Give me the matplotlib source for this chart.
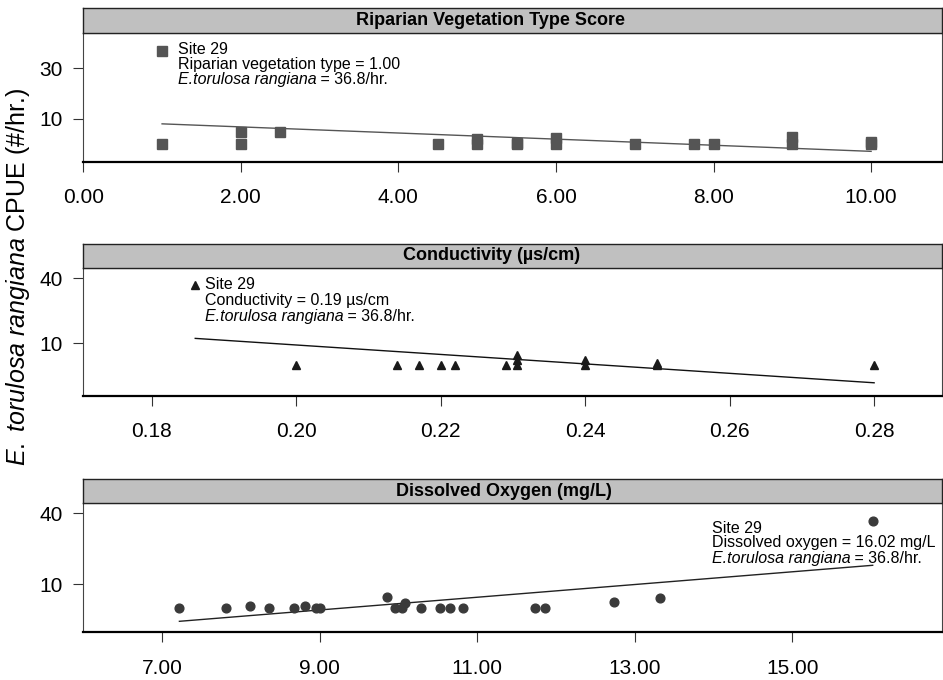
# -*- coding: utf-8 -*-
"""
Trois panneaux: CPUE de E. torulosa rangiana en fonction de
la végétation riveraine, de la conductivité et de l'oxygène dissous.
Chaque panneau: points par site, droite de régression, note sur le site 29.
"""
import matplotlib
matplotlib.use("Agg")
import matplotlib.pyplot as plt
import numpy as np

plt.rcParams["font.family"] = ["Liberation Sans", "DejaVu Sans"]
plt.rcParams["mathtext.fontset"] = "custom"
plt.rcParams["mathtext.rm"] = "Liberation Sans"
plt.rcParams["mathtext.it"] = "Liberation Sans:italic"

# --- Données ---------------------------------------------------------------
rip_score = [1, 1, 2, 2, 2.5, 4.5, 5, 5, 5.5, 5.5, 6, 6, 7, 7.75, 8, 9, 9, 10, 10]
rip_cpue = [36.8, 0, 0, 4.6, 4.6, 0, 0, 1.9, 0, 0.6, 0, 2.3, 0, 0, 0, 0, 2.8, 0, 1.0]
rip_fit = (-1.211, 9.21)          # pente, ordonnée

cond = [0.186, 0.200, 0.214, 0.217, 0.220, 0.222, 0.229, 0.2305, 0.2305, 0.2305,
        0.240, 0.240, 0.250, 0.250, 0.280]
cond_cpue = [36.8, 0, 0, 0, 0, 0, 0, 0, 2.3, 4.6, 0, 2.2, 0, 1.1, 0]
cond_fit = (-218.1, 52.87)

do_mgl = [7.22, 7.81, 8.12, 8.36, 8.68, 8.81, 8.96, 9.00, 9.85, 9.96, 10.05, 10.08,
          10.29, 10.53, 10.65, 10.82, 11.74, 11.86, 12.74, 13.32, 16.02]
do_cpue = [0, 0, 0.7, 0, 0, 0.7, 0, 0, 4.6, 0, 0, 2.2, 0, 0, 0, 0, 0, 0, 2.6, 4.4, 36.8]
do_fit = (2.689, -25.07)

rip_ticks = [0, 2, 4, 6, 8, 10]
cond_ticks = [0.18, 0.20, 0.22, 0.24, 0.26, 0.28]
do_ticks = [7, 9, 11, 13, 15]

species = "E.torulosa rangiana"
rate_txt = " = 36.8/hr."
rip_note = ["Site 29", "Riparian vegetation type = 1.00"]
cond_note = ["Site 29", "Conductivity = 0.19 µs/cm"]
do_note = ["Site 29", "Dissolved oxygen = 16.02 mg/L"]

W, H = 943, 680


def px_rect(x0, y0, x1, y1):
    """Rectangle en pixels (origine en haut à gauche) -> fraction de figure."""
    return [x0 / W, 1 - y1 / H, (x1 - x0) / W, (y1 - y0) / H]


def draw_panel(fig, box, header_top, title, title_x, x, y, marker, msize, mcolor,
               fit, fit_color, xlim, ylim, xticks, yticks, note, note_dx, note_dy):
    x0, y0, x1, y1 = box
    ax = fig.add_axes(px_rect(x0, y0, x1, y1))
    hd = fig.add_axes(px_rect(x0, header_top, x1, y0))

    # Bandeau de titre gris
    hd.set_facecolor("#c0c0c0")
    hd.set_xticks([])
    hd.set_yticks([])
    for s in hd.spines.values():
        s.set_linewidth(1.0)
        s.set_color("#222222")
    hd.text(title_x, 0.5, title, transform=hd.transAxes, ha="center",
            va="center", fontsize=13, fontweight="bold")

    # Points et droite de régression
    ax.plot(x, y, linestyle="none", marker=marker, markersize=msize,
            color=mcolor, zorder=3)
    xs = np.array([min(x), max(x)])
    slope, icpt = fit
    ax.plot(xs, slope * xs + icpt, color=fit_color, lw=1.0, zorder=2)

    ax.set_xlim(*xlim)
    ax.set_ylim(*ylim)
    ax.set_xticks(xticks)
    ax.set_xticklabels([f"{t:.2f}" for t in xticks])
    ax.set_yticks(yticks)
    ax.set_yticklabels([str(t) for t in yticks])
    ax.tick_params(axis="x", length=7, width=0.8, pad=12, labelsize=15, color="#333333")
    ax.tick_params(axis="y", length=7, width=0.8, pad=8, labelsize=15, color="#333333")

    for side in ("left", "right", "top"):
        ax.spines[side].set_linewidth(0.8)
        ax.spines[side].set_color("#444444")
    ax.spines["bottom"].set_linewidth(1.6)
    ax.spines["bottom"].set_color("black")

    # Note sur le site 29 (point le plus haut), une ligne par texte
    i = int(np.argmax(y))
    kw = dict(xy=(x[i], y[i]), textcoords="offset points", ha="left",
              va="baseline", fontsize=11.5, zorder=4)
    for k, line in enumerate(note):
        ax.annotate(line, xytext=(note_dx, note_dy[k]), **kw)
    sp = ax.annotate(species, xytext=(note_dx, note_dy[2]), fontstyle="italic", **kw)
    ax.annotate(rate_txt, xy=(1, 0), xycoords=sp, ha="left", va="bottom",
                fontsize=11.5, zorder=4)
    return ax


fig = plt.figure(figsize=(W / 100, H / 100), dpi=100)

draw_panel(fig, (83.3, 33, 942, 161.7), 8.3, "Riparian Vegetation Type Score", 0.474,
           rip_score, rip_cpue, "s", 6.5, "#555555", rip_fit, "#555555",
           (0, 10.9), (-7.0, 44.0), rip_ticks, [10, 30],
           rip_note, 11.2, [-1.9, -12.7, -23.5])

draw_panel(fig, (83.3, 268, 942, 396), 244, "Conductivity (µs/cm)", 0.476,
           cond, cond_cpue, "^", 6, "#1a1a1a", cond_fit, "#111111",
           (0.1705, 0.2894), (-14.3, 44.8), cond_ticks, [10, 40],
           cond_note, 6.7, [-2.9, -14.4, -25.7])

draw_panel(fig, (83.3, 503.3, 942, 632.3), 479, "Dissolved Oxygen (mg/L)", 0.49,
           do_mgl, do_cpue, "o", 6.3, "#3a3a3a", do_fit, "#222222",
           (6.0, 16.9), (-10.3, 44.2), do_ticks, [10, 40],
           do_note, -115.9, [-8.6, -19.2, -30.7])

fig.text(0.019, 0.593, r"$\mathit{E.\ torulosa\ rangiana}$ CPUE (#/hr.)",
         rotation=90, ha="center", va="center", fontsize=18)

fig.savefig("out.png", dpi=100)
